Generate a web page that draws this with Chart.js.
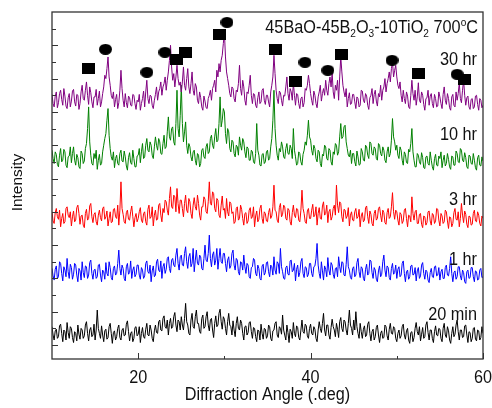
<!DOCTYPE html>
<html>
<head>
<meta charset="utf-8">
<script src="https://cdn.jsdelivr.net/npm/chart.js@4.4.0/dist/chart.umd.min.js"></script>
<style>
    html, body { margin: 0; padding: 0; background: #fff; }
    #wrap { width: 492px; height: 408px; }
</style>
</head>
<body>
<div id="wrap"><canvas id="xrdChart"></canvas></div>
<script>
/* globals Chart:false */
// scan grid of the diffractometer (2-theta, degrees)
const SCAN_START = 10, SCAN_STEP = 0.125;

const samples = ["30 hr", "10 hr", "3 hr", "1 hr", "20 min"];
const sampleColors = ["#800080", "#008000", "#ff0000", "#0000ff", "#000000"];
// vertical stacking offset of each pattern
const sampleOffsets = [1410, 1050, 700, 380, 0];

const int30hr = [
    95, 40, 20, 85, 110, 15, 45, 100, 120, 65, 30, 130, 85, 25, 10, 75, 100, 20, 55, 115, 125, 50, 25, 95, 90, 5, 40, 110, 150, 70, 60, 120, 170, 90, 35, 140, 105, 50, 15, 80,
    80, 125, 30, 70, 115, 20, 50, 100, 140, 210, 190, 250, 320, 200, 150, 90, 70, 110, 20, 65, 95, 10, 45, 120, 240, 130, 60, 20, 100, 45, 15, 85, 75, 30, 25, 95, 90, 40, 5, 60,
    50, 95, 0, 40, 70, 115, 20, 110, 180, 70, 40, 90, 85, 30, 10, 60, 95, 140, 60, 110, 130, 170, 90, 140, 160, 200, 120, 180, 230, 300, 390, 260, 180, 220, 140, 200, 270, 190, 150, 170,
    110, 170, 260, 150, 120, 190, 250, 140, 100, 160, 230, 120, 90, 160, 140, 60, 40, 110, 75, 20, 0, 85, 55, 15, 10, 70, 90, 120, 60, 130, 150, 180, 110, 240, 200, 280, 230, 300, 330, 400,
    470, 320, 230, 190, 150, 100, 80, 140, 130, 70, 50, 120, 110, 160, 270, 130, 90, 180, 140, 60, 30, 110, 100, 150, 210, 90, 40, 100, 95, 30, 15, 75, 110, 40, 50, 120, 130, 60, 35, 90,
    90, 50, 20, 110, 150, 200, 330, 220, 120, 70, 40, 115, 105, 60, 25, 90, 85, 140, 200, 100, 60, 130, 110, 60, 165, 90, 30, 100, 95, 40, 10, 70, 80, 20, 45, 130, 120, 150, 210, 160,
    100, 60, 30, 115, 90, 40, 15, 80, 110, 150, 55, 100, 130, 90, 180, 120, 90, 160, 200, 140, 225, 110, 70, 150, 120, 180, 60, 200, 320, 230, 150, 110, 80, 130, 20, 70, 105, 35, 40, 95,
    95, 50, 10, 80, 70, 20, 30, 120, 115, 60, 45, 100, 85, 30, 5, 75, 90, 130, 40, 95, 120, 55, 25, 100, 80, 150, 60, 120, 140, 190, 110, 160, 190, 230, 170, 250, 290, 200, 240, 270,
    200, 150, 130, 170, 90, 50, 120, 70, 40, 110, 85, 20, 10, 90, 180, 100, 60, 120, 30, 80, 165, 60, 45, 110, 90, 35, 0, 70, 75, 120, 30, 85, 100, 40, 15, 95, 70, 20, 25, 110,
    80, 40, 10, 95, 140, 60, 35, 100, 70, 15, 0, 80, 95, 30, 20, 110, 60, 100, 165, 70, 45, 120, 180, 90, 30, 75, 85, 20, 5, 65, 70, 10, 20, 85, 90, 35, 0, 70, 60, 15,
    30
];
const int10hr = [
    120, 70, 40, 110, 95, 35, 20, 90, 130, 50, 60, 125, 110, 30, 15, 80, 85, 140, 45, 100, 140, 60, 30, 95, 75, 20, 10, 115, 100, 40, 55, 130, 160, 250, 380, 170, 90, 40, 30, 100,
    70, 120, 5, 60, 95, 30, 40, 110, 150, 190, 220, 300, 370, 210, 130, 80, 60, 110, 15, 70, 90, 40, 30, 100, 120, 55, 50, 115, 80, 25, 0, 75, 105, 45, 35, 120, 70, 20, 20, 85,
    90, 130, 45, 110, 160, 70, 80, 150, 190, 120, 110, 170, 150, 90, 70, 140, 200, 150, 120, 190, 170, 100, 95, 160, 210, 130, 140, 230, 320, 200, 180, 250, 260, 170, 150, 280, 480, 250, 200, 330,
    510, 280, 170, 230, 290, 150, 100, 160, 140, 80, 55, 110, 120, 60, 30, 100, 90, 20, 40, 120, 130, 80, 70, 140, 160, 100, 110, 190, 210, 150, 130, 200, 250, 170, 180, 280, 440, 260, 300, 370,
    350, 220, 160, 250, 230, 130, 110, 180, 170, 100, 80, 150, 140, 90, 200, 150, 120, 190, 170, 110, 75, 140, 130, 60, 60, 120, 110, 50, 40, 100, 280, 120, 90, 30, 25, 95, 100, 40, 50, 110,
    120, 60, 70, 140, 190, 300, 480, 250, 150, 90, 60, 130, 110, 170, 140, 80, 70, 130, 160, 100, 95, 150, 130, 70, 250, 120, 80, 30, 40, 110, 100, 50, 30, 95, 120, 170, 150, 210, 300, 200,
    180, 120, 90, 150, 130, 70, 50, 120, 110, 40, 20, 95, 85, 150, 140, 70, 60, 130, 120, 50, 30, 110, 95, 160, 150, 90, 110, 200, 280, 190, 200, 260, 270, 170, 130, 90, 80, 120, 40, 100,
    100, 50, 25, 115, 80, 30, 35, 130, 110, 60, 55, 150, 140, 90, 70, 170, 160, 100, 90, 140, 130, 70, 60, 160, 150, 100, 85, 140, 120, 60, 45, 110, 140, 80, 100, 180, 310, 200, 170, 120,
    150, 90, 70, 140, 120, 60, 30, 110, 95, 45, 40, 125, 110, 160, 250, 110, 60, 20, 20, 100, 90, 50, 35, 105, 75, 15, 10, 80, 85, 40, 30, 110, 60, 20, 0, 70, 95, 30, 25, 85,
    70, 110, 15, 60, 90, 25, 40, 100, 65, 20, 5, 85, 80, 30, 30, 115, 100, 50, 45, 130, 120, 60, 50, 105, 75, 20, 10, 90, 85, 40, 35, 100, 60, 15, 0, 75, 90, 30, 25, 80,
    55
];
const int3hr = [
    100, 45, 30, 95, 120, 70, 55, 110, 10, 60, 90, 30, 40, 120, 130, 80, 65, 100, 15, 70, 105, 40, 50, 125, 140, 90, 25, 75, 80, 20, 5, 90, 115, 50, 60, 135, 150, 70, 35, 85,
    95, 40, 20, 80, 110, 65, 45, 120, 130, 55, 70, 105, 15, 60, 100, 35, 40, 115, 120, 70, 60, 140, 20, 110, 280, 120, 85, 40, 30, 95, 110, 55, 50, 100, 135, 70, 10, 65, 90, 40,
    60, 100, 125, 50, 35, 90, 100, 40, 20, 115, 140, 60, 70, 130, 15, 80, 110, 50, 55, 140, 150, 80, 40, 120, 95, 170, 160, 110, 80, 180, 250, 130, 120, 200, 190, 100, 240, 150, 90, 170,
    170, 120, 70, 150, 200, 110, 95, 180, 160, 90, 60, 140, 185, 130, 110, 200, 150, 80, 50, 130, 130, 190, 175, 100, 90, 160, 280, 150, 140, 220, 210, 120, 100, 180, 170, 80, 65, 140, 195, 110,
    120, 60, 180, 100, 75, 160, 150, 90, 100, 30, 40, 120, 130, 50, 60, 140, 115, 60, 20, 90, 95, 30, 45, 110, 125, 60, 70, 130, 10, 75, 105, 40, 55, 120, 140, 60, 30, 100, 90, 45,
    40, 95, 120, 60, 75, 130, 260, 110, 100, 50, 35, 125, 150, 70, 85, 140, 130, 60, 50, 120, 110, 40, 20, 95, 140, 80, 65, 120, 115, 50, 40, 110, 230, 120, 90, 40, 30, 105, 120, 60,
    60, 110, 145, 70, 80, 130, 20, 90, 125, 60, 55, 135, 160, 80, 90, 140, 35, 100, 115, 50, 70, 120, 140, 80, 260, 140, 95, 160, 150, 70, 40, 115, 110, 60, 75, 125, 15, 80, 100, 50,
    45, 100, 120, 60, 70, 115, 10, 75, 95, 40, 50, 125, 135, 70, 30, 105, 85, 30, 15, 90, 110, 50, 60, 120, 130, 80, 40, 110, 95, 35, 25, 95, 120, 60, 70, 130, 215, 100, 55, 110,
    100, 50, 20, 95, 85, 30, 45, 110, 120, 60, 10, 80, 75, 40, 190, 90, 50, 100, 110, 30, 30, 85, 90, 25, 5, 75, 70, 20, 35, 100, 105, 45, 20, 90, 80, 30, 45, 120, 115, 50,
    15, 90, 75, 30, 40, 110, 100, 45, 0, 70, 65, 10, 30, 95, 120, 55, 50, 100, 10, 60, 150, 80, 35, 105, 85, 25, 5, 75, 70, 20, 25, 90, 110, 45, 40, 100, 80, 30, 15, 75,
    60
];
const int1hr = [
    80, 35, 10, 75, 95, 20, 30, 120, 110, 50, 5, 90, 70, 30, 140, 60, 20, 105, 85, 15, 45, 110, 100, 40, 0, 80, 65, 10, 120, 55, 25, 95, 90, 20, 40, 115, 130, 50, 15, 70,
    75, 20, 30, 100, 105, 40, 0, 70, 60, 15, 115, 50, 35, 120, 85, 25, 10, 80, 95, 40, 50, 110, 190, 80, 40, 100, 80, 20, 5, 90, 110, 45, 55, 125, 20, 70, 90, 30, 45, 100,
    100, 40, 15, 85, 70, 20, 35, 110, 125, 60, 50, 100, 0, 65, 95, 30, 40, 120, 135, 70, 60, 125, 20, 90, 110, 50, 75, 140, 150, 80, 55, 130, 140, 100, 90, 160, 200, 110, 70, 150,
    160, 100, 95, 170, 210, 120, 80, 150, 170, 90, 110, 200, 60, 130, 190, 110, 100, 160, 150, 80, 70, 140, 220, 130, 120, 170, 280, 140, 90, 160, 180, 100, 130, 200, 75, 140, 200, 120, 110, 170,
    170, 110, 60, 130, 150, 80, 95, 170, 190, 100, 70, 140, 130, 60, 40, 120, 115, 70, 160, 90, 50, 110, 100, 30, 20, 85, 90, 140, 130, 50, 35, 100, 80, 20, 10, 95, 105, 40, 55, 115,
    120, 60, 30, 100, 90, 40, 150, 70, 45, 120, 110, 50, 200, 90, 60, 20, 15, 85, 95, 45, 40, 125, 130, 60, 70, 110, 5, 75, 100, 30, 55, 120, 140, 50, 25, 90, 85, 30, 45, 110,
    110, 50, 30, 90, 95, 140, 230, 100, 50, 20, 120, 65, 10, 95, 75, 30, 145, 70, 40, 115, 100, 45, 20, 80, 85, 30, 150, 90, 55, 120, 115, 40, 35, 105, 210, 90, 70, 25, 15, 80,
    90, 30, 40, 115, 140, 60, 25, 90, 80, 20, 5, 75, 105, 40, 50, 130, 125, 55, 20, 85, 70, 15, 0, 65, 95, 30, 45, 120, 160, 70, 30, 95, 85, 25, 10, 80, 110, 45, 55, 100,
    20, 75, 90, 30, 40, 110, 125, 50, 0, 60, 70, 15, 30, 95, 100, 40, 45, 85, 5, 65, 85, 20, 35, 100, 115, 50, 15, 70, 60, 10, -5, 55, 80, 30, 25, 90, 95, 35, 40, 85,
    10, 60, 75, 20, 20, 85, 100, 40, 35, 80, 150, 50, 0, 55, 65, 15, 30, 90, 90, 35, 10, 70, 55, 0, -10, 60, 70, 20, 25, 85, 85, 30, 0, 65, 60, 10, 15, 70, 80, 25,
    30
];
const int20min = [
    110, 60, 30, 85, 95, 40, 50, 115, 125, 70, 20, 90, 80, 30, 135, 75, 40, 110, 100, 45, 15, 80, 70, 25, 120, 65, 35, 100, 90, 40, 55, 120, 140, 70, 25, 90, 105, 50, 60, 125,
    30, 90, 210, 100, 70, 40, 115, 60, 20, 85, 95, 35, 45, 110, 130, 70, 10, 75, 85, 30, 50, 100, 120, 45, 30, 90, 100, 55, 60, 125, 145, 80, 25, 70, 80, 20, 40, 105, 110, 55,
    65, 110, 15, 70, 105, 50, 40, 95, 130, 60, 55, 120, 90, 40, 20, 85, 120, 75, 70, 140, 150, 90, 85, 160, 175, 110, 100, 150, 60, 130, 160, 100, 110, 170, 195, 120, 80, 150, 140, 90,
    170, 120, 90, 160, 250, 140, 120, 70, 60, 150, 190, 110, 100, 170, 210, 130, 130, 80, 70, 160, 180, 100, 110, 170, 200, 120, 85, 150, 160, 90, 45, 130, 175, 110, 120, 190, 215, 140, 95, 170,
    155, 100, 60, 140, 190, 120, 110, 60, 145, 90, 50, 130, 170, 100, 90, 150, 130, 70, 30, 110, 115, 60, 75, 135, 140, 80, 40, 105, 100, 50, 20, 90, 85, 30, 125, 70, 35, 100, 95, 40,
    55, 120, 110, 40, 25, 85, 90, 130, 140, 60, 45, 110, 100, 65, 180, 90, 60, 30, 120, 75, 15, 95, 80, 40, 135, 70, 50, 115, 105, 45, 30, 90, 150, 80, 70, 125, 115, 55, 40, 100,
    125, 70, 60, 110, 95, 40, 20, 90, 140, 100, 75, 130, 190, 90, 55, 120, 120, 60, 35, 105, 155, 110, 90, 50, 130, 95, 45, 140, 165, 100, 80, 150, 140, 90, 60, 130, 210, 120, 100, 60,
    150, 90, 200, 110, 70, 40, 130, 80, 40, 95, 115, 50, 60, 125, 140, 70, 25, 80, 95, 30, 50, 105, 120, 60, 15, 70, 85, 40, 45, 120, 110, 55, 30, 95, 130, 70, 65, 110, 100, 40,
    20, 70, 90, 40, 55, 110, 125, 60, 35, 85, 100, 30, 10, 75, 80, 20, 45, 100, 135, 80, 60, 110, 25, 65, 105, 40, 50, 120, 140, 75, 30, 90, 90, 40, 15, 80, 115, 60, 55, 100,
    95, 40, 20, 100, 130, 60, 45, 110, 85, 30, 10, 70, 110, 50, 65, 120, 150, 80, 30, 90, 90, 45, 50, 115, 120, 60, 15, 80, 75, 20, 40, 100, 105, 35, 25, 90, 85, 30, 45, 110,
    70
];
const sampleData = [int30hr, int10hr, int3hr, int1hr, int20min];

// phase markers (square / circle) placed above the 30 hr pattern
const squareAngles = [14.2, 24.5, 25.5, 29.4, 35.9, 38.2, 43.6, 52.5, 57.9];
const squareHeights = [1662, 1716, 1758, 1866, 1776, 1584, 1746, 1632, 1596];
const circleAngles = [16.2, 21.0, 23.1, 30.3, 39.35, 42.0, 49.45, 57.0];
const circleHeights = [1776, 1638, 1758, 1938, 1698, 1650, 1710, 1626];

const xTickLabels = [20, 40, 60];
const xMinorTicks = [30, 50];

const FONT = '"Liberation Sans", Arial, sans-serif';

function markerImage(kind) {
    var c = document.createElement("canvas");
    c.width = 13;
    c.height = 11;
    var g = c.getContext("2d");
    g.fillStyle = "#000";
    if (kind === "rect") {
        g.fillRect(0, 0, 13, 11);
    } else {
        g.beginPath();
        g.ellipse(6.5, 5.5, 6.5, 5.5, 0, 0, Math.PI * 2);
        g.fill();
    }
    return c;
}

function toPoints(values, offset) {
    return values.map((v, i) => ({ x: SCAN_START + i * SCAN_STEP, y: v + offset }));
}

// parts: [text, size factor, baseline shift]
function richText(ctx, parts, x, y, size, align, sx) {
    var w = 0;
    parts.forEach(p => {
        ctx.font = (size * p[1]) + "px " + FONT;
        w += ctx.measureText(p[0]).width;
    });
    ctx.save();
    ctx.translate(x, y);
    ctx.scale(sx, 1);
    var cx = align === "right" ? -w : (align === "center" ? -w / 2 : 0);
    parts.forEach(p => {
        ctx.font = (size * p[1]) + "px " + FONT;
        ctx.fillText(p[0], cx, p[2]);
        cx += ctx.measureText(p[0]).width;
    });
    ctx.restore();
}

const decorPlugin = {
    id: "decor",
    afterDraw(chart) {
        var ctx = chart.ctx,
            a = chart.chartArea,
            x = chart.scales.x,
            y = chart.scales.y;

        ctx.save();
        ctx.strokeStyle = "#333";
        ctx.lineWidth = 1;

        // inward ticks
        ctx.beginPath();
        xTickLabels.concat(xMinorTicks).forEach(v => {
            var px = Math.round(x.getPixelForValue(v)) + 0.5;
            var len = xMinorTicks.indexOf(v) >= 0 ? 3 : 6;
            ctx.moveTo(px, a.bottom);
            ctx.lineTo(px, a.bottom - len);
        });
        for (var v = 0; v < 2000; v += 100) {
            var py = Math.round(y.getPixelForValue(v)) + 0.5;
            var len = v % 200 === 0 ? 6 : 4;
            ctx.moveTo(a.left, py);
            ctx.lineTo(a.left + len, py);
        }
        ctx.stroke();

        ctx.lineWidth = 1.3;
        ctx.strokeRect(a.left, a.top, a.right - a.left, a.bottom - a.top);

        ctx.fillStyle = "#111";
        ctx.textBaseline = "alphabetic";

        xTickLabels.forEach(v => {
            richText(ctx, [[String(v), 1, 0]], x.getPixelForValue(v), 383, 18, "center", 0.9);
        });
        richText(ctx, [["Diffraction Angle (.deg)", 1, 0]], (a.left + a.right) / 2, 400, 18, "center", 0.9);

        ctx.save();
        ctx.translate(22, (a.top + a.bottom) / 2 - 3);
        ctx.rotate(-Math.PI / 2);
        ctx.font = "15.5px " + FONT;
        ctx.textAlign = "center";
        ctx.fillText("Intensity", 0, 0);
        ctx.restore();

        richText(ctx, [
            ["45BaO-45B", 1, 0], ["2", 0.62, 4], ["O", 1, 0], ["3", 0.62, 4],
            ["-10TiO", 1, 0], ["2", 0.62, 4], [" 700", 1, 0], ["o", 0.62, -7], ["C", 1, 0]
        ], 478, 33, 17.5, "right", 0.93);

        var labelBase = [65, 140, 205, 265, 320];
        samples.forEach((s, i) => {
            richText(ctx, [[s, 1, 0]], 477, labelBase[i], 17.5, "right", 0.93);
        });

        // sanity check of the typed scans
        var bad = sampleData.filter(d => d.length !== 401).map(d => d.length);
        if (bad.length) {
            ctx.fillStyle = "#f0f";
            ctx.fillText("len " + bad.join(","), 60, 30);
        }
        ctx.restore();
    }
};

var datasets = [{
    type: "scatter",
    data: squareAngles.map((d, i) => ({ x: d, y: squareHeights[i] })),
    pointStyle: markerImage("rect"),
    pointRadius: 6,
    showLine: false
}, {
    type: "scatter",
    data: circleAngles.map((d, i) => ({ x: d, y: circleHeights[i] })),
    pointStyle: markerImage("circle"),
    pointRadius: 6,
    showLine: false
}].concat(samples.map((s, i) => ({
    label: s,
    data: toPoints(sampleData[i], sampleOffsets[i]),
    borderColor: sampleColors[i],
    borderWidth: 1,
    pointRadius: 0,
    tension: 0
})));

new Chart(document.getElementById("xrdChart"), {
    type: "line",
    data: { datasets: datasets },
    options: {
        responsive: true,
        maintainAspectRatio: false,
        animation: false,
        parsing: false,
        layout: { padding: { left: 52, top: 12, right: 9, bottom: 49 } },
        plugins: { legend: { display: false }, tooltip: { enabled: false } },
        scales: {
            x: { type: "linear", min: 10, max: 60, display: false },
            y: { type: "linear", min: -84, max: 2000, display: false }
        }
    },
    plugins: [decorPlugin]
});
</script>
</body>
</html>
